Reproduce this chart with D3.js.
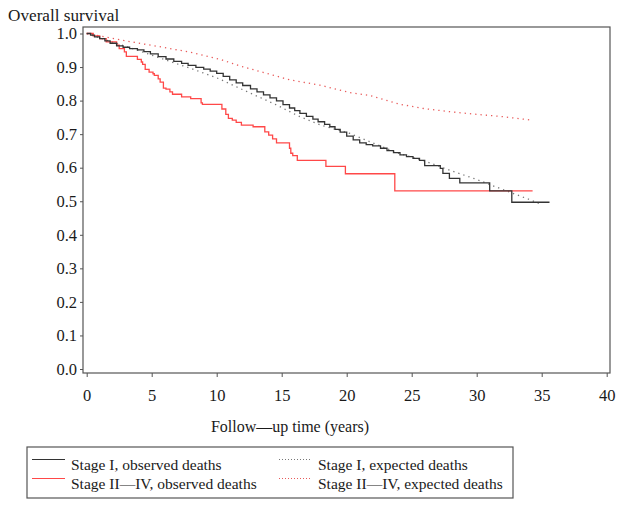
<!DOCTYPE html>
<html><head><meta charset="utf-8">
<script src="https://cdn.jsdelivr.net/npm/d3@7"></script>
<style>
body{margin:0;background:#fff;}
text{font-family:"Liberation Serif","Times New Roman",serif;fill:#1a1a1a;}
</style></head>
<body><svg id="c" width="624" height="509"></svg>
<script>
// Step curves: [time (years), survival after step]
const stageIObserved = [[0,1.0],[0.3,0.995],[0.6,0.99],[1.0,0.985],[1.4,0.978],[1.8,0.971],[2.3,0.963],[2.8,0.959],[3.3,0.955],[3.9,0.951],[4.4,0.946],[4.9,0.939],[5.5,0.931],[6.1,0.924],[6.7,0.917],[7.3,0.911],[7.8,0.905],[8.4,0.899],[9.0,0.894],[9.5,0.888],[10.0,0.881],[10.5,0.872],[11.0,0.862],[11.5,0.853],[12.0,0.845],[12.6,0.835],[13.1,0.826],[13.6,0.817],[14.1,0.808],[14.6,0.799],[15.1,0.788],[15.6,0.778],[16.0,0.77],[16.4,0.762],[16.9,0.753],[17.4,0.745],[17.8,0.737],[18.3,0.729],[18.7,0.722],[19.1,0.714],[19.5,0.706],[20.0,0.694],[20.5,0.683],[21.0,0.674],[21.5,0.669],[22.0,0.665],[22.6,0.658],[23.1,0.651],[23.6,0.645],[24.1,0.638],[24.6,0.633],[25.1,0.628],[25.6,0.622],[26.0,0.606],[27.2,0.598],[27.4,0.583],[27.9,0.568],[28.7,0.555],[31.0,0.531],[32.7,0.497],[35.6,0.497]];
const stageIIIVObserved = [[0,1.0],[0.5,0.993],[1.0,0.985],[1.5,0.975],[2.3,0.965],[2.5,0.955],[2.9,0.945],[3.05,0.932],[3.9,0.923],[4.2,0.915],[4.3,0.908],[4.5,0.893],[4.8,0.885],[5.1,0.88],[5.2,0.875],[5.5,0.865],[5.65,0.855],[5.9,0.837],[6.1,0.834],[6.4,0.826],[6.6,0.819],[7.3,0.811],[8.0,0.806],[8.8,0.793],[8.9,0.789],[10.4,0.775],[10.7,0.759],[10.9,0.747],[11.2,0.742],[11.5,0.735],[11.9,0.727],[12.8,0.722],[13.7,0.707],[14.0,0.697],[14.3,0.686],[14.6,0.674],[15.6,0.658],[15.7,0.643],[15.85,0.636],[16.2,0.622],[18.4,0.604],[19.9,0.582],[23.7,0.531],[34.3,0.531]];
// Expected survival curves: [time, survival]
const stageIExpected = [[0,1.0],[2,0.974],[4,0.949],[6,0.922],[8,0.896],[10,0.868],[12.6,0.822],[14.5,0.789],[16.4,0.752],[18,0.727],[20.25,0.702],[21.8,0.677],[24,0.643],[26,0.62],[27.9,0.593],[30,0.565],[32,0.535],[34,0.506],[35,0.49]];
const stageIIIVExpected = [[0,1.0],[3.3,0.976],[6,0.958],[8,0.944],[10.35,0.922],[11.8,0.903],[13.5,0.885],[15.6,0.862],[17.95,0.846],[20.25,0.824],[21.8,0.815],[24.1,0.789],[26,0.776],[27.9,0.767],[30,0.759],[31.8,0.753],[34.2,0.742]];
const xTicks = [0,5,10,15,20,25,30,35,40];
const yTicks = [0,0.1,0.2,0.3,0.4,0.5,0.6,0.7,0.8,0.9,1.0];
const legendLabels = ["Stage I, observed deaths","Stage II\u2014IV, observed deaths","Stage I, expected deaths","Stage II\u2014IV, expected deaths"];

const svg = d3.select("#c");
const x = d3.scaleLinear().domain([0,40]).range([86.7,606.7]);
const y = d3.scaleLinear().domain([0,1]).range([369,33.5]);

// frame
svg.append("rect").attr("x",83).attr("y",27).attr("width",527).attr("height",346)
  .attr("fill","none").attr("stroke","#555").attr("stroke-width",1.2);

const ya = svg.append("g").attr("transform","translate(83,0)")
  .call(d3.axisLeft(y).tickValues(yTicks).tickFormat(d3.format(".1f")).tickSize(3).tickPadding(3));
const xa = svg.append("g").attr("transform","translate(0,373)")
  .call(d3.axisBottom(x).tickValues(xTicks).tickFormat(d3.format("d")).tickSize(4).tickPadding(12));
[ya,xa].forEach(a=>{
  a.select(".domain").remove();
  a.selectAll(".tick line").attr("stroke","#555");
  a.selectAll("text").style("font-family","'Liberation Serif',serif").style("font-size","16.5px").attr("fill","#1a1a1a");
});

const lineStep = d3.line().x(d=>x(d[0])).y(d=>y(d[1])).curve(d3.curveStepAfter);
const lineSmooth = d3.line().x(d=>x(d[0])).y(d=>y(d[1]));

svg.append("path").attr("d",lineSmooth(stageIIIVExpected)).attr("fill","none")
  .attr("stroke","#e85a5a").attr("stroke-width",1.3).attr("stroke-dasharray","1.3,4");
svg.append("path").attr("d",lineSmooth(stageIExpected)).attr("fill","none")
  .attr("stroke","#777").attr("stroke-width",1.3).attr("stroke-dasharray","1.3,4");
svg.append("path").attr("d",lineStep(stageIIIVObserved)).attr("fill","none")
  .attr("stroke","#ff4848").attr("stroke-width",1.3);
svg.append("path").attr("d",lineStep(stageIObserved)).attr("fill","none")
  .attr("stroke","#333").attr("stroke-width",1.3);

// titles
svg.append("text").attr("x",8).attr("y",21).style("font-size","17.2px").text("Overall survival");
svg.append("text").attr("x",290).attr("y",432).attr("text-anchor","middle").style("font-size","16px").text("Follow\u2014up time (years)");

// legend
svg.append("rect").attr("x",27).attr("y",447).attr("width",486).attr("height",51)
  .attr("fill","none").attr("stroke","#555").attr("stroke-width",1.2);
const leg = [
  {lx:32, tx:71, ly:459.5, ty:470, color:"#333", dash:null},
  {lx:32, tx:71, ly:478.5, ty:489, color:"#ff4848", dash:null},
  {lx:279, tx:318, ly:459.5, ty:470, color:"#777", dash:"1,2"},
  {lx:279, tx:318, ly:478.5, ty:489, color:"#e85a5a", dash:"1,2"}
];
leg.forEach((d,i)=>{
  svg.append("line").attr("x1",d.lx).attr("x2",d.lx+33).attr("y1",d.ly).attr("y2",d.ly)
    .attr("stroke",d.color).attr("stroke-width",1).attr("stroke-dasharray",d.dash);
  svg.append("text").attr("x",d.tx).attr("y",d.ty).style("font-size","15.5px").text(legendLabels[i]);
});
</script></body></html>
